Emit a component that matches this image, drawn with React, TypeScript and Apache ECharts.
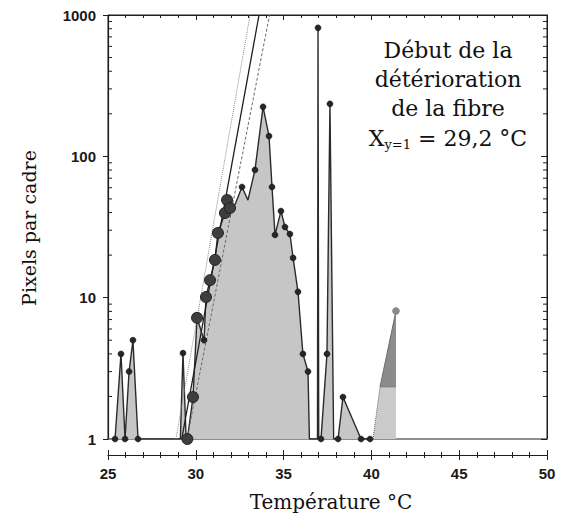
import React, { useEffect, useRef } from "react";
import * as echarts from "echarts";

// Outline of the measured curve (temperature °C, pixels per frame)
const envX = [25.40, 25.74, 25.97, 26.20, 26.42, 26.71, 29.12, 29.27, 29.45, 29.52, 29.84, 30.07, 30.47, 30.58, 30.81, 31.09, 31.26, 31.66, 31.78, 31.95, 32.25, 32.63, 32.97, 33.37, 33.83, 34.17, 34.34, 34.51, 34.85, 35.08, 35.36, 35.54, 35.82, 36.10, 36.39, 36.47, 36.93, 36.96, 37.00, 37.13, 37.47, 37.64, 37.85, 38.10, 38.38, 39.41, 39.92];
const envY = [1, 4.0, 1, 3.0, 5.0, 1, 1, 4.05, 1, 1, 1.98, 7.2, 5.0, 10.1, 13.3, 18.5, 28.7, 39.7, 49.1, 43.1, 46, 60.7, 49, 80.1, 224, 139, 60.7, 27.8, 41, 31.6, 28.2, 19.1, 11, 4.0, 3.0, 1, 1, 811, 1, 1, 4.0, 235, 1, 1, 1.98, 1, 1];

// Small markers
const dotX = [25.40, 25.74, 25.97, 26.20, 26.42, 26.71, 29.27, 30.47, 32.63, 33.37, 33.83, 34.17, 34.34, 34.51, 34.85, 35.08, 35.36, 35.54, 35.82, 36.10, 36.39, 36.96, 37.13, 37.47, 37.64, 38.10, 38.38, 39.41, 39.92];
const dotY = [1, 4.0, 1, 3.0, 5.0, 1, 4.05, 5.0, 60.7, 80.1, 224, 139, 60.7, 27.8, 41, 31.6, 28.2, 19.1, 11, 4.0, 3.0, 811, 1, 4.0, 235, 1, 1.98, 1, 1];

// Large markers along the rising edge
const bigX = [29.52, 29.84, 30.07, 30.58, 30.81, 31.09, 31.26, 31.66, 31.78, 31.95];
const bigY = [1, 1.98, 7.2, 10.1, 13.3, 18.5, 28.7, 39.7, 49.1, 43.1];

// Last small event near 40-41 °C
const lightX = [40.09, 40.49, 41.40];
const lightY = [1, 2.33, 2.33];
const darkX = [40.49, 41.40];
const darkY = [2.33, 8.05];
const lastDotX = [41.40];
const lastDotY = [8.05];

// Exponential fits: x where y = 1 and x where y = 1000
const fitSolid = [[29.2, 1], [33.6, 1000]];
const fitDotted = [[28.87, 1], [33.09, 1000]];
const fitDashed = [[29.5, 1], [34.2, 1000]];

// Axis ticks
const xMin = 25;
const xMax = 50;
const xStep = 5;
const yMin = 1;
const yMax = 1000;
const yMinorTicks = [2, 3, 4, 5, 6, 7, 8, 9, 20, 30, 40, 50, 60, 70, 80, 90, 200, 300, 400, 500, 600, 700, 800, 900];

const pair = (xs: number[], ys: number[]) => xs.map((x, i) => [x, ys[i]]);

export default function App() {
  const ref = useRef<HTMLDivElement>(null);
  useEffect(() => {
    if (!ref.current) return;
    document.body.style.margin = "0";
    const chart = echarts.init(ref.current, null, { renderer: "svg" });
    const ink = "#1e1e1e";
    const tickFont = { fontFamily: "Liberation Sans", fontSize: 15, fontWeight: "bold", color: "#1a1a1a" };
    const serif = "DejaVu Serif";
    const baseX = {
      type: "value",
      min: xMin,
      max: xMax,
      interval: xStep,
      splitLine: { show: false },
    };
    const option: any = {
      animation: false,
      grid: { left: 108, right: 22, top: 15, bottom: 82, show: true, borderColor: ink, borderWidth: 1, backgroundColor: "transparent" },
      xAxis: [
        {
          ...baseX,
          position: "bottom",
          offset: 16,
          axisLine: { show: true, lineStyle: { color: ink, width: 1.2 } },
          axisTick: { show: true, inside: false, length: 5, lineStyle: { color: ink } },
          minorTick: { show: true, splitNumber: 5, length: 3, lineStyle: { color: ink } },
          axisLabel: { ...tickFont, margin: 11 },
        },
        {
          ...baseX,
          position: "bottom",
          offset: 16,
          axisLine: { show: false },
          axisTick: { show: true, inside: true, length: 5, lineStyle: { color: ink } },
          minorTick: { show: true, splitNumber: 5, length: 3, lineStyle: { color: ink } },
          axisLabel: { show: false },
        },
        {
          ...baseX,
          position: "top",
          axisLine: { show: true, lineStyle: { color: ink } },
          axisTick: { show: true, inside: true, length: 5, lineStyle: { color: ink } },
          minorTick: { show: true, splitNumber: 5, length: 3, lineStyle: { color: ink } },
          axisLabel: { show: false },
        },
      ],
      yAxis: [
        {
          type: "log",
          logBase: 10,
          min: yMin,
          max: yMax,
          position: "left",
          axisLine: { show: true, lineStyle: { color: ink, width: 1.2 } },
          axisTick: { show: true, inside: false, length: 5, lineStyle: { color: ink } },
          axisLabel: { ...tickFont, margin: 12, formatter: (v: number) => String(Math.round(v)) },
          splitLine: { show: false },
        },
        {
          type: "log",
          logBase: 10,
          min: yMin,
          max: yMax,
          position: "right",
          axisLine: { show: true, lineStyle: { color: ink } },
          axisTick: { show: true, inside: true, length: 6, lineStyle: { color: ink } },
          axisLabel: { show: false },
          splitLine: { show: false },
        },
      ],
      series: [
        {
          type: "line",
          data: pair(darkX, darkY),
          symbol: "none",
          lineStyle: { color: "#6a6a6a", width: 1 },
          areaStyle: { color: "#8c8c8c", opacity: 1, origin: "start" },
          z: 2,
        },
        {
          type: "line",
          data: pair(lightX, lightY),
          symbol: "none",
          lineStyle: { color: "#666", width: 1, type: "dotted" },
          areaStyle: { color: "#cbcbcb", opacity: 1, origin: "start" },
          z: 3,
        },
        {
          type: "line",
          data: pair(envX, envY),
          symbol: "none",
          lineStyle: { color: "#2a2a2a", width: 1.4 },
          areaStyle: { color: "#c6c6c6", opacity: 1, origin: "start" },
          z: 3,
        },
        {
          type: "line",
          data: fitDotted,
          symbol: "none",
          lineStyle: { color: "#8a8a8a", width: 1, type: "dotted" },
          z: 4,
        },
        {
          type: "line",
          data: fitDashed,
          symbol: "none",
          lineStyle: { color: "#6a6a6a", width: 1, type: [3, 2] },
          z: 4,
        },
        {
          type: "line",
          data: fitSolid,
          symbol: "none",
          lineStyle: { color: "#1e1e1e", width: 1.3 },
          z: 4,
        },
        {
          type: "scatter",
          data: pair(bigX, bigY),
          symbolSize: 11,
          clip: false,
          itemStyle: { color: "#3e3e3e", borderColor: "#222", borderWidth: 1, opacity: 1 },
          z: 5,
        },
        {
          type: "scatter",
          data: pair(dotX, dotY),
          symbolSize: 6,
          clip: false,
          itemStyle: { color: "#262626", borderColor: "#111", borderWidth: 0.5, opacity: 1 },
          z: 6,
        },
        {
          type: "scatter",
          data: pair(lastDotX, lastDotY),
          symbolSize: 7,
          clip: false,
          itemStyle: { color: "#8a8a8a", borderColor: "#777", borderWidth: 0.5, opacity: 1 },
          z: 6,
        },
        {
          type: "custom",
          data: yMinorTicks.map((v) => [xMin, v]),
          clip: false,
          silent: true,
          z: 7,
          renderItem: (_params: any, api: any) => {
            const v = api.value(1);
            const l = api.coord([xMin, v]);
            const r = api.coord([xMax, v]);
            return {
              type: "group",
              children: [
                { type: "line", shape: { x1: l[0], y1: l[1], x2: l[0] + 4, y2: l[1] }, style: { stroke: ink, lineWidth: 1 } },
                { type: "line", shape: { x1: r[0] - 4, y1: r[1], x2: r[0], y2: r[1] }, style: { stroke: ink, lineWidth: 1 } },
              ],
            };
          },
        },
      ],
      graphic: [
        {
          type: "text",
          x: 29,
          y: 228,
          rotation: Math.PI / 2,
          style: { text: "Pixels par cadre", fontFamily: serif, fontSize: 19, fill: "#111", textAlign: "center", textVerticalAlign: "middle" },
        },
        {
          type: "text",
          x: 331,
          y: 502,
          style: { text: "Température °C", fontFamily: serif, fontSize: 20, fill: "#111", textAlign: "center", textVerticalAlign: "middle" },
        },
        {
          type: "text",
          x: 448,
          y: 50,
          style: { text: "Début de la", fontFamily: serif, fontSize: 22, fill: "#111", textAlign: "center", textVerticalAlign: "middle" },
        },
        {
          type: "text",
          x: 448,
          y: 79,
          style: { text: "détérioration", fontFamily: serif, fontSize: 22, fill: "#111", textAlign: "center", textVerticalAlign: "middle" },
        },
        {
          type: "text",
          x: 448,
          y: 108,
          style: { text: "de la fibre", fontFamily: serif, fontSize: 22, fill: "#111", textAlign: "center", textVerticalAlign: "middle" },
        },
        {
          type: "text",
          x: 448,
          y: 138,
          style: {
            text: "{a|X}{s|y=1}{a| = 29,2 °C}",
            textAlign: "center",
            textVerticalAlign: "middle",
            rich: {
              a: { fontFamily: serif, fontSize: 22, fill: "#111", lineHeight: 26 },
              s: { fontFamily: serif, fontSize: 13, fill: "#111", lineHeight: 12, verticalAlign: "bottom" },
            },
          },
        },
      ],
    };
    chart.setOption(option);
    return () => chart.dispose();
  }, []);
  return <div ref={ref} style={{ width: 569, height: 521 }} />;
}
